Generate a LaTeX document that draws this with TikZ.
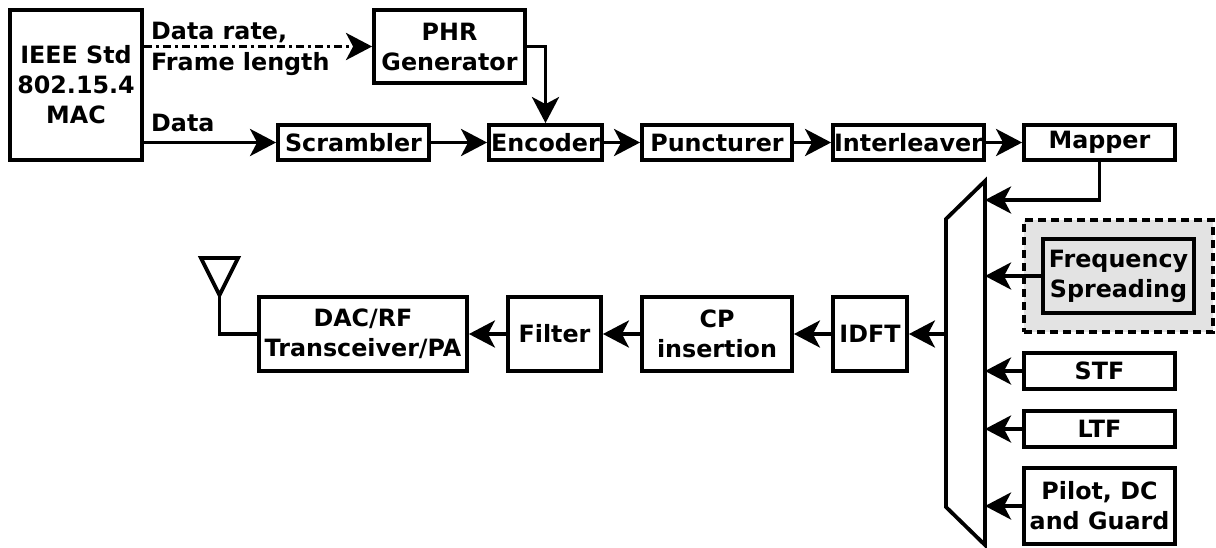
\documentclass[tikz,border=0pt]{standalone}
\usepackage{fontspec}
\setmainfont{DejaVu Sans}
\usetikzlibrary{arrows.meta}
\tikzset{
  x=1pt, y=-1pt,
  every node/.style={font=\bfseries\fontsize{23.8}{30}\selectfont},
  box/.style={draw, line width=3.8pt, align=center, inner sep=0pt, minimum width=151pt, minimum height=35pt},
  conn/.style={line width=3.8pt, -{Stealth[length=26pt,width=27pt,inset=7pt]}},
  plain/.style={line width=3.8pt},
  lbl/.style={anchor=base west, inner sep=0pt}
}
\begin{document}
\begin{tikzpicture}
\useasboundingbox (0,0) rectangle (1216,547);
% top row
\node[box, minimum width=132pt, minimum height=150pt] (mac) at (76,85) {IEEE Std\\802.15.4\\MAC};
\node[box, minimum height=73pt] (phr) at (449.5,46.5) {PHR\\Generator};
\node[box] (scr) at (353.5,142.5) {Scrambler};
\node[box, minimum width=113pt] (enc) at (545.5,142.5) {Encoder};
\node[box, minimum width=150pt] (pun) at (717,142.5) {Puncturer};
\node[box] (int) at (908.5,142.5) {Interleaver};
\node[box] (map) at (1099.5,142.5) {Mapper};
% right column
\node[draw, line width=3.8pt, dash pattern=on 8pt off 5pt, fill=black!11, minimum width=189pt, minimum height=112pt, inner sep=0pt] (grp) at (1118.5,276) {};
\node[box, minimum height=74pt] (fs) at (1118.5,276) {Frequency\\Spreading};
\node[box, minimum height=36pt] (stf) at (1099.5,371) {STF};
\node[box, minimum height=36pt] (ltf) at (1099.5,429) {LTF};
\node[box, minimum height=76pt] (pil) at (1099.5,506) {Pilot, DC\\and Guard};
% bottom row
\node[box, minimum width=74pt, minimum height=74pt] (idft) at (870,334) {IDFT};
\node[box, minimum width=150pt, minimum height=74pt] (cp) at (717,334) {CP\\insertion};
\node[box, minimum width=93pt, minimum height=74pt] (flt) at (554.5,334) {Filter};
\node[box, minimum width=208pt, minimum height=74pt] (dac) at (363,334) {DAC/RF\\Transceiver/PA};
% mux
\coordinate (m1) at (946,219);
\coordinate (m2) at (985,181);
\coordinate (m3) at (985,545);
\coordinate (m4) at (946,507);
\draw[plain, line join=miter] (m1) -- (m2) -- (m3) -- (m4) -- cycle;
% labels
\node[lbl] (l1) at (151,39.5) {Data rate,};
\node[lbl] (l2) at (151,70.5) {Frame length};
\node[lbl] (l3) at (151,131.5) {Data};
% connectors
\draw[conn, dash pattern=on 8pt off 4pt on 3pt off 4pt] (mac.east |- phr.west) -- (phr.west);
\draw[conn] (phr.east) -| (enc.north);
\draw[conn] (mac.east |- scr.west) -- (scr.west);
\draw[conn] (scr) -- (enc);
\draw[conn] (enc) -- (pun);
\draw[conn] (pun) -- (int);
\draw[conn] (int) -- (map);
\coordinate (mapin) at (985,200);
\draw[conn] (map.south) |- (mapin);
\draw[conn] (fs.west) -- (fs.west -| m2);
\draw[conn] (stf.west) -- (stf.west -| m2);
\draw[conn] (ltf.west) -- (ltf.west -| m2);
\draw[conn] (pil.west) -- (pil.west -| m2);
\draw[conn] (idft.east -| m1) -- (idft.east);
\draw[conn] (idft) -- (cp);
\draw[conn] (cp) -- (flt);
\draw[conn] (flt) -- (dac);
% antenna
\coordinate (ta) at (201,258);
\coordinate (tb) at (238,258);
\coordinate (tc) at (219.5,295);
\draw[plain, line join=miter] (ta) -- (tb) -- (tc) -- cycle;
\draw[plain] (tc) |- (dac.west);
\end{tikzpicture}
\end{document}
